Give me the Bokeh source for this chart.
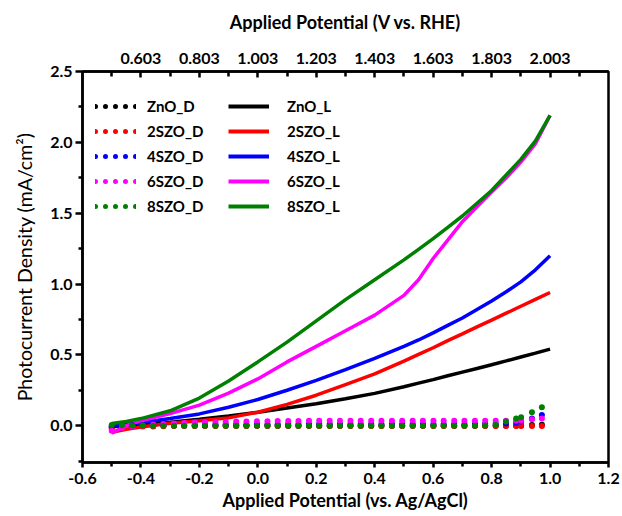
from bokeh.plotting import figure
from bokeh.models import (Range1d, LinearAxis, FixedTicker, PrintfTickFormatter,
                          Legend, LegendItem)
from bokeh.embed import file_html
from bokeh.resources import INLINE

# ---------------- data ----------------
SERIES = ["ZnO", "2SZO", "4SZO", "6SZO", "8SZO"]
COLORS = ["#000000", "#ff0000", "#0000ff", "#ff00ff", "#008000"]

# light (illuminated) LSV curves, x in V vs Ag/AgCl
V_L = [-0.5, -0.45, -0.4, -0.3, -0.2, -0.1, 0.0, 0.1, 0.2, 0.3, 0.4, 0.5,
       0.55, 0.6, 0.65, 0.7, 0.75, 0.8, 0.85, 0.9, 0.95, 1.0]
ZnO_L = [-0.007, 0.0, 0.01, 0.025, 0.045, 0.068, 0.095, 0.125, 0.155, 0.19, 0.228, 0.275,
         0.3, 0.325, 0.352, 0.378, 0.404, 0.43, 0.457, 0.485, 0.512, 0.54]
SZO2_L = [-0.047, -0.025, -0.01, 0.017, 0.034, 0.055, 0.095, 0.15, 0.215, 0.29, 0.365, 0.455,
          0.503, 0.55, 0.6, 0.648, 0.697, 0.745, 0.794, 0.843, 0.892, 0.94]
SZO4_L = [0.0, 0.01, 0.02, 0.05, 0.083, 0.13, 0.185, 0.25, 0.32, 0.395, 0.475, 0.56,
          0.605, 0.655, 0.708, 0.76, 0.82, 0.88, 0.945, 1.015, 1.1, 1.2]
SZO6_L = [-0.054, 0.0, 0.035, 0.085, 0.145, 0.23, 0.33, 0.45, 0.56, 0.67, 0.78, 0.92,
          1.03, 1.18, 1.31, 1.44, 1.545, 1.65, 1.75, 1.86, 1.99, 2.19]
SZO8_L = [0.016, 0.03, 0.05, 0.105, 0.195, 0.315, 0.45, 0.59, 0.74, 0.89, 1.03, 1.17,
          1.245, 1.32, 1.4, 1.48, 1.57, 1.66, 1.77, 1.88, 2.01, 2.19]
LIGHT = [ZnO_L, SZO2_L, SZO4_L, SZO6_L, SZO8_L]

# dark curves (sparse points)
V_D = [-0.5, -0.465, -0.429, -0.394, -0.358, -0.323, -0.287, -0.252, -0.216, -0.181, -0.145,
       -0.11, -0.074, -0.039, -0.003, 0.033, 0.068, 0.104, 0.139, 0.175, 0.21, 0.246,
       0.281, 0.317, 0.352, 0.388, 0.423, 0.459, 0.494, 0.53, 0.565, 0.601, 0.636,
       0.672, 0.707, 0.743, 0.778, 0.814, 0.849, 0.884, 0.901, 0.938, 0.972]
ZnO_D = [-0.01, -0.006, -0.004, -0.003, -0.002, -0.001, 0.0, 0.0, 0.0, 0.0, 0.0,
         0.0, 0.0, 0.0, 0.0, 0.0, 0.0, 0.0, 0.0, 0.0, 0.0, 0.0,
         0.0, 0.0, 0.0, 0.0, 0.0, 0.0, 0.0, 0.0, 0.0, 0.0, 0.0,
         0.0, 0.0, 0.0, 0.0, 0.0, 0.0, 0.0, 0.002, 0.004, 0.006]
SZO2_D = [-0.02, -0.012, -0.008, -0.006, -0.005, -0.004, -0.003, -0.003, -0.002, -0.002, -0.002,
          -0.002, -0.002, -0.002, -0.002, -0.002, -0.002, -0.002, -0.002, -0.002, -0.002, -0.002,
          -0.002, -0.002, -0.002, -0.002, -0.002, -0.002, -0.002, -0.002, -0.002, -0.002, -0.002,
          -0.002, -0.002, -0.002, -0.002, -0.002, -0.002, -0.002, -0.002, -0.002, -0.002]
SZO4_D = [-0.005, 0.0, 0.003, 0.005, 0.006, 0.007, 0.008, 0.008, 0.009, 0.009, 0.01,
          0.01, 0.01, 0.01, 0.01, 0.01, 0.01, 0.011, 0.011, 0.011, 0.011, 0.011,
          0.011, 0.011, 0.012, 0.012, 0.012, 0.012, 0.012, 0.012, 0.012, 0.012, 0.012,
          0.012, 0.012, 0.012, 0.013, 0.014, 0.016, 0.02, 0.03, 0.05, 0.075]
SZO6_D = [-0.035, -0.015, -0.005, 0.002, 0.008, 0.012, 0.016, 0.019, 0.022, 0.024, 0.026,
          0.028, 0.029, 0.03, 0.031, 0.032, 0.033, 0.033, 0.033, 0.034, 0.034, 0.034,
          0.034, 0.035, 0.035, 0.035, 0.035, 0.035, 0.035, 0.035, 0.035, 0.035, 0.035,
          0.035, 0.035, 0.035, 0.035, 0.035, 0.035, 0.036, 0.037, 0.045, 0.05]
SZO8_D = [0.005, 0.003, 0.002, 0.001, 0.0, 0.0, 0.0, 0.0, 0.0, 0.0, 0.0,
          0.0, 0.0, 0.0, 0.0, 0.0, 0.0, 0.0, 0.0, 0.0, 0.0, 0.0,
          0.0, 0.0, 0.0, 0.0, 0.0, 0.0, 0.0, 0.0, 0.0, 0.0, 0.0,
          0.0, 0.0, 0.0, 0.002, 0.005, 0.03, 0.05, 0.06, 0.095, 0.13]
DARK = [ZnO_D, SZO2_D, SZO4_D, SZO6_D, SZO8_D]

X_TICKS = [-0.6, -0.4, -0.2, 0.0, 0.2, 0.4, 0.6, 0.8, 1.0, 1.2]
X_MINOR = [-0.5, -0.3, -0.1, 0.1, 0.3, 0.5, 0.7, 0.9, 1.1]
Y_TICKS = [0.0, 0.5, 1.0, 1.5, 2.0, 2.5]
Y_MINOR = [-0.25, 0.25, 0.75, 1.25, 1.75, 2.25]
RHE_OFFSET = 1.003
TOP_TICKS = [0.603, 0.803, 1.003, 1.203, 1.403, 1.603, 1.803, 2.003]
TOP_MINOR = [0.503, 0.703, 0.903, 1.103, 1.303, 1.503, 1.703, 1.903, 2.103]

X_TITLE = "Applied Potential (vs. Ag/AgCl)"
TOP_TITLE = "Applied Potential (V vs. RHE)"
Y_TITLE = "Photocurrent Density (mA/cm\u00b2)"

FONT = "Lato"
X0, X1 = -0.6, 1.2
Y0, Y1 = -0.26, 2.5
NAN = float("nan")

# ---------------- figure ----------------
p = figure(width=622, height=516, output_backend="svg", toolbar_location=None,
           x_range=Range1d(X0, X1), y_range=Range1d(Y0, Y1),
           min_border_left=82, min_border_right=14, min_border_top=71, min_border_bottom=54)
p.background_fill_color = "white"
p.border_fill_color = "white"
p.outline_line_color = "black"
p.outline_line_width = 2.5
p.xgrid.visible = False
p.ygrid.visible = False


def style_axis(ax, title, title_style="bold", title_size="18px"):
    ax.axis_label = title
    ax.axis_label_text_font = FONT
    ax.axis_label_text_font_style = title_style
    ax.axis_label_text_font_size = title_size
    ax.axis_label_text_color = "black"
    ax.major_label_text_font = FONT
    ax.major_label_text_font_style = "bold"
    ax.major_label_text_font_size = "16px"
    ax.major_label_text_color = "black"
    ax.axis_line_width = 2.5
    ax.major_tick_line_width = 2.5
    ax.minor_tick_line_width = 2.5
    ax.axis_line_color = "black"
    ax.major_tick_line_color = "black"
    ax.minor_tick_line_color = "black"


xa = p.xaxis[0]
xa.ticker = FixedTicker(ticks=X_TICKS, minor_ticks=X_MINOR)
xa.formatter = PrintfTickFormatter(format="%.1f")
style_axis(xa, X_TITLE)
xa.major_tick_out = 5
xa.major_tick_in = 0
xa.minor_tick_out = 4
xa.minor_tick_in = 0
xa.major_label_standoff = 5
xa.axis_label_standoff = 2

ya = p.yaxis[0]
ya.ticker = FixedTicker(ticks=Y_TICKS, minor_ticks=Y_MINOR)
ya.formatter = PrintfTickFormatter(format="%.1f")
style_axis(ya, Y_TITLE, title_style="normal", title_size="19.5px")
ya.major_tick_out = 7
ya.major_tick_in = 0
ya.minor_tick_out = 4
ya.minor_tick_in = 0
ya.major_label_standoff = 3
ya.axis_label_standoff = 11

p.extra_x_ranges = {"rhe": Range1d(X0 + RHE_OFFSET, X1 + RHE_OFFSET)}
top = LinearAxis(x_range_name="rhe",
                 ticker=FixedTicker(ticks=TOP_TICKS, minor_ticks=TOP_MINOR),
                 formatter=PrintfTickFormatter(format="%.3f"))
style_axis(top, TOP_TITLE)
top.major_tick_in = 6
top.major_tick_out = 0
top.minor_tick_in = 5
top.minor_tick_out = 0
top.major_label_standoff = 8
top.axis_label_standoff = 17
p.add_layout(top, "above")

# ---------------- data marks ----------------
for ys, c in zip(LIGHT, COLORS):
    p.line(V_L, ys, line_color=c, line_width=3.5)

for ys, c in zip(DARK, COLORS):
    p.scatter(V_D, ys, size=6, fill_color=c, line_color=c, line_width=0)

# ---------------- legends ----------------
dark_items = []
light_items = []
for name, c in zip(SERIES, COLORS):
    rd = p.line([NAN], [NAN], line_color=c, line_width=5, line_dash="0 10", line_cap="round")
    rl = p.line([NAN], [NAN], line_color=c, line_width=4)
    dark_items.append(LegendItem(label=name + "_D", renderers=[rd]))
    light_items.append(LegendItem(label=name + "_L", renderers=[rl]))


def make_legend(items, loc, standoff):
    lg = Legend(items=items, location=loc, orientation="vertical",
                glyph_width=41, glyph_height=20, label_height=20, spacing=5,
                padding=0, margin=0, label_standoff=standoff,
                border_line_alpha=0, background_fill_alpha=0,
                label_text_font=FONT, label_text_font_style="bold",
                label_text_font_size="15px", label_text_color="black")
    return lg


p.add_layout(make_legend(dark_items, (13, 246), 11))
p.add_layout(make_legend(light_items, (146, 246), 18))

open("out.html", "w").write(file_html(p, INLINE))
